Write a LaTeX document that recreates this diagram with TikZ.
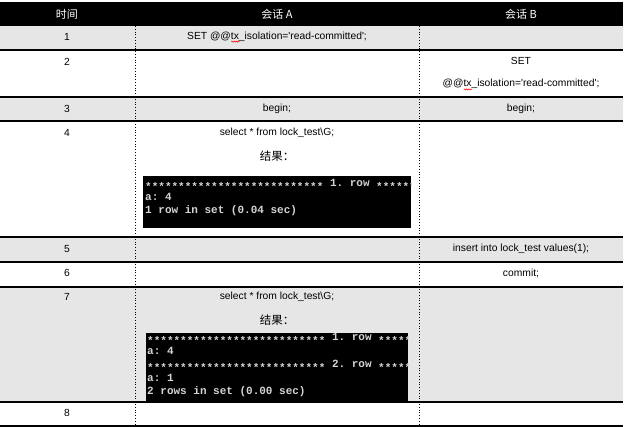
\documentclass[tikz,border=0pt]{standalone}
\usepackage{fontspec}
\setmainfont{Liberation Sans}
\setmonofont{Liberation Mono}
\newfontfamily\cjk{Noto Sans CJK SC}
\usetikzlibrary{positioning,decorations.pathmorphing}
\newlength{\wavelen}
\newcommand{\redwave}[1]{\settowidth{\wavelen}{#1}\rlap{\tikz[baseline=0pt]\draw[red,line width=0.5pt,decorate,decoration={snake,amplitude=0.6pt,segment length=2.2pt}] (0pt,-2.6pt) -- (\wavelen,-2.6pt);}#1}
\definecolor{rowgray}{HTML}{E6E6E6}
\definecolor{termgray}{HTML}{D4D4D4}
\tikzset{cell/.style={inner sep=0pt,font=\fontsize{10.3}{22}\selectfont,align=center}}
\tikzset{head/.style={inner sep=0pt,text=white,font=\cjk\fontsize{11}{12}\selectfont}}
\tikzset{term/.style={inner sep=0pt,anchor=base west,text=termgray,font=\ttfamily\bfseries\fontsize{11}{13}\selectfont}}
\tikzset{rule/.style={line width=1.2pt},sep/.style={dotted,line width=0.8pt}}
\newcommand{\stars}{\raisebox{-3.6pt}{***************************}}
\newcommand{\result}{{\cjk\fontsize{11.5}{12}\selectfont 结果：}}

\begin{document}
\begin{tikzpicture}[x=1pt,y=-1pt]
    \useasboundingbox (0,0) rectangle (625,427);
    % backgrounds
    \fill[black] (0,2) rectangle (623,26);
    \foreach \ya/\yb in {26/50,97/121,237/262,287/402}
        \fill[rowgray] (0,\ya) rectangle (623,\yb);
    \fill[black] (143,176) rectangle (411,228);
    \fill[black] (146,333) rectangle (408,401);
    % table rules
    \foreach \y in {50,97,121,237,262,287,402,426}
        \draw[rule] (0,\y) -- (623,\y);
    \foreach \x in {135,419}
        \draw[sep] (\x,26) -- (\x,427);
    % header
    \node[head] (time) at (67,14)  {时间};
    \node[head] (sa)   at (277,14) {会话 A};
    \node[head] (sb)   at (521,14) {会话 B};
    % step numbers
    \foreach \n/\y in {1/37,2/62,3/109,4/133,5/249,6/273,7/297,8/413}
        \node[cell] (t\n) at (67,\y) {\n};
    % session A
    \node[cell] (a1) at (277,37) {SET @@\redwave{tx}\_isolation=\textquotesingle read-committed\textquotesingle;};
    \node[cell] (a3) at (277,109) {begin;};
    \node[cell] (a4) at (277,133) {select * from lock\_test\textbackslash G;};
    \node[cell] (r4) at (277,156) {\result};
    \node[cell] (a7) at (277,297) {select * from lock\_test\textbackslash G;};
    \node[cell] (r7) at (277,320) {\result};
    % session B
    \node[cell] (b2) at (521,74) {SET\\@@\redwave{tx}\_isolation=\textquotesingle read-committed\textquotesingle;};
    \node[cell] (b3) at (521,109) {begin;};
    \node[cell] (b5) at (521,249) {insert into lock\_test values(1);};
    \node[cell] (b6) at (521,273) {commit;};
    % query output
    \begin{scope}
        \clip (143,176) rectangle (411,228);
        \node[term] (o41) at (145,187)   {\stars{} 1. row \stars};
        \node[term] (o42) at (145,200.5) {a: 4};
        \node[term] (o43) at (145,214)   {1 row in set (0.04 sec)};
    \end{scope}
    \begin{scope}
        \clip (146,333) rectangle (408,401);
        \node[term] (o71) at (147,341)   {\stars{} 1. row \stars};
        \node[term] (o72) at (147,354.5) {a: 4};
        \node[term] (o73) at (147,368)   {\stars{} 2. row \stars};
        \node[term] (o74) at (147,381.5) {a: 1};
        \node[term] (o75) at (147,395)   {2 rows in set (0.00 sec)};
    \end{scope}
\end{tikzpicture}
\end{document}
